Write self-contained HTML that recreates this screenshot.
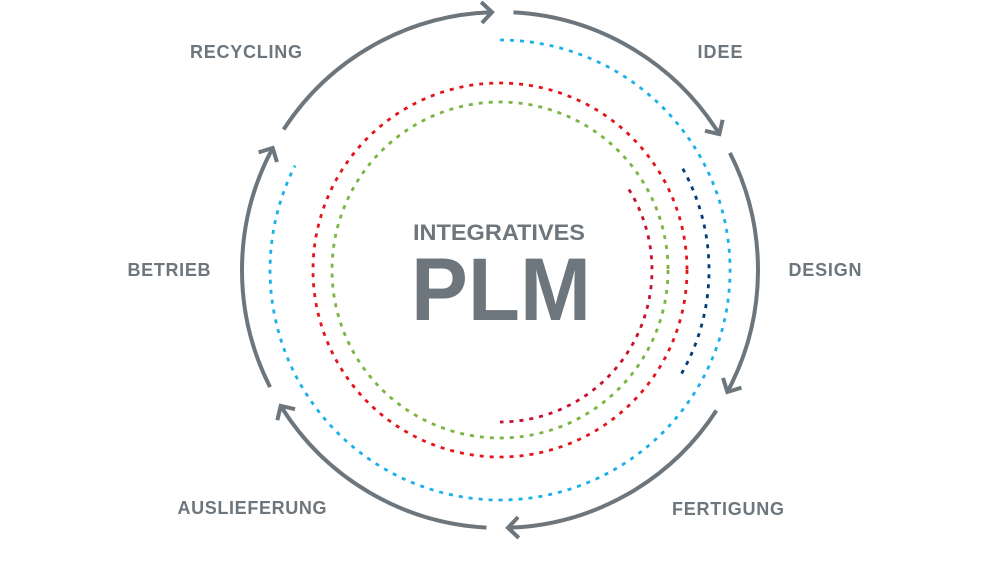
<!DOCTYPE html>
<html><head><meta charset="utf-8"><style>html,body{margin:0;padding:0;background:#fff}svg{display:block}</style></head>
<body>
<svg width="1000" height="561" viewBox="0 0 1000 561" xmlns="http://www.w3.org/2000/svg">
<defs>
<marker id="ar" markerUnits="userSpaceOnUse" markerWidth="30" markerHeight="30" refX="15" refY="15" orient="auto" overflow="visible">
<path d="M7,6 L16,15 L7,24" fill="none" stroke="#6d767c" stroke-width="4" stroke-linecap="square" stroke-linejoin="miter"/>
</marker>
</defs>
<g fill="none" stroke="#6d767c" stroke-width="4" marker-end="url(#ar)">
<path d="M283.6,129.5 A258,258 0 0 1 491,12.2"/>
<path d="M513.5,12.4 A258,258 0 0 1 718.8,133.3"/>
<path d="M729.9,152.9 A258,258 0 0 1 727.8,391.1"/>
<path d="M716.4,410.5 A258,258 0 0 1 509,527.8"/>
<path d="M486.5,527.6 A258,258 0 0 1 281.2,406.7"/>
<path d="M270.1,387.1 A258,258 0 0 1 272.2,148.9"/>
</g>
<g fill="none" stroke-width="2.8" stroke-dasharray="4 6">
<path d="M500,40 A230,230 0 1 1 295.1,165.6" stroke="#1ab0e8"/>
<circle cx="500" cy="270" r="187" stroke="#e3151b"/>
<circle cx="500" cy="270" r="168" stroke="#7ab441"/>
<path d="M628.9,189.5 A152,152 0 0 1 500,422" stroke="#c8102e"/>
<path d="M682.8,168.7 A209,209 0 0 1 679.2,377.6" stroke="#003b7a"/>
</g>
<g font-family="Liberation Sans, sans-serif" font-weight="bold" fill="#6d767c" font-size="18" text-anchor="middle" lengthAdjust="spacingAndGlyphs">
<text x="246" y="58" textLength="112">RECYCLING</text>
<text x="720" y="58" textLength="45">IDEE</text>
<text x="825" y="276" textLength="73">DESIGN</text>
<text x="169" y="276" textLength="83">BETRIEB</text>
<text x="252" y="514" textLength="149">AUSLIEFERUNG</text>
<text x="728" y="515" textLength="112">FERTIGUNG</text>
<text x="499" y="240" font-size="22" textLength="172" lengthAdjust="spacingAndGlyphs">INTEGRATIVES</text>
<text x="501" y="320" font-size="89" textLength="180" lengthAdjust="spacingAndGlyphs">PLM</text>
</g>
</svg>
</body></html>
